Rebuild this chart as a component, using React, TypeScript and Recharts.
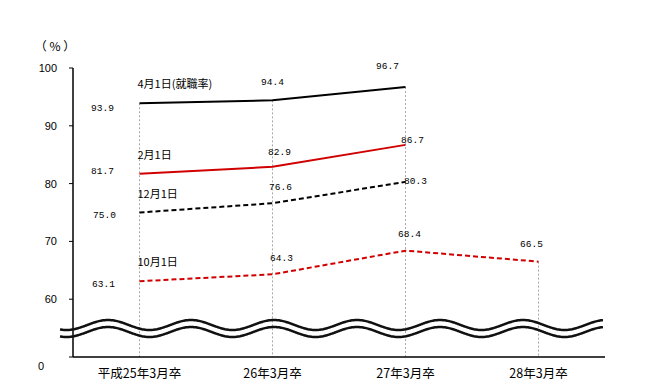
import { LineChart, Line, XAxis, YAxis, ReferenceLine } from "recharts";

const categories = ["平成25年3月卒", "26年3月卒", "27年3月卒", "28年3月卒"];
const april = [93.9, 94.4, 96.7, null];
const february = [81.7, 82.9, 86.7, null];
const december = [75.0, 76.6, 80.3, null];
const october = [63.1, 64.3, 68.4, 66.5];
const yTicks = [50, 60, 70, 80, 90, 100];

const data = categories.map((name, i) => ({
  name,
  april: april[i],
  february: february[i],
  december: december[i],
  october: october[i],
}));

// label offsets (dx, dy) from each point
const aprilPos = [[-37, 5], [0, -18], [-18, -21]];
const februaryPos = [[-37, -2], [7, -14], [7, -4]];
const decemberPos = [[-35, 3], [8, -16], [10, 0]];
const octoberPos = [[-36, 3], [9, -16], [4, -16], [-7, -17]];

const W = 649;
const H = 386;
const numFont = "'Liberation Mono', monospace";
const jpFont = "'Noto Sans CJK JP', sans-serif";

function makeLabel(title: string, pos: number[][]) {
  return (p: any) => {
    const { x, y, value, index } = p;
    if (value == null) return null;
    const [dx, dy] = pos[index] || [0, -15];
    return (
      <g key={`${title}-${index}`}>
        <text
          x={x + dx}
          y={y + dy}
          textAnchor="middle"
          dominantBaseline="central"
          fontSize={9.5}
          fontFamily={numFont}
          fill="#000"
        >
          {value.toFixed(1)}
        </text>
        {index === 0 && (
          <text
            x={x - 2}
            y={y - 20}
            dominantBaseline="central"
            fontSize={11}
            fontFamily={jpFont}
            fill="#000"
          >
            {title}
          </text>
        )}
      </g>
    );
  };
}

function YTick({ x, y, payload }: any) {
  if (payload.value === 50) {
    return (
      <text x={44} y={y + 9} textAnchor="end" dominantBaseline="central" fontSize={11} fontFamily="'Liberation Sans', sans-serif" fill="#000">
        0
      </text>
    );
  }
  return (
    <text x={x} y={y} textAnchor="end" dominantBaseline="central" fontSize={11} fontFamily="'Liberation Sans', sans-serif" fill="#000">
      {payload.value}
    </text>
  );
}

function wavePath(offset: number) {
  let d = "";
  for (let x = 60; x <= 603; x += 1) {
    const y = 325 + offset - 5 * Math.cos((2 * Math.PI * (x - 108)) / 83);
    d += (x === 60 ? "M" : "L") + x + "," + y.toFixed(2) + " ";
  }
  return d;
}

export default function App() {
  const tops = data.map((d) =>
    Math.max(...[d.april, d.february, d.december, d.october].filter((v): v is number => v != null))
  );
  return (
    <div style={{ position: "absolute", left: 0, top: 0, width: W, height: H, background: "#fff" }}>
      <LineChart
        width={W}
        height={H}
        data={data}
        margin={{ top: 68, right: 44, bottom: 9, left: 28 }}
      >
        {categories.map((c, i) => (
          <ReferenceLine
            key={c}
            segment={[{ x: c, y: tops[i] }, { x: c, y: 50 }]}
            stroke="#a6a6a6"
            strokeDasharray="2 2"
            strokeWidth={1}
          />
        ))}
        <XAxis
          dataKey="name"
          height={20}
          padding={{ left: 66.5, right: 66.5 }}
          axisLine={{ stroke: "#000", strokeWidth: 1.5 }}
          tickLine={false}
          tickMargin={6}
          tick={{ fill: "#000", fontSize: 12.5, fontFamily: jpFont }}
          interval={0}
        />
        <YAxis
          width={45}
          domain={[50, 100]}
          ticks={yTicks}
          interval={0}
          axisLine={{ stroke: "#000", strokeWidth: 1.5 }}
          tickLine={{ stroke: "#000" }}
          tickSize={4}
          tickMargin={12}
          tick={<YTick />}
        />
        <Line
          type="linear"
          dataKey="april"
          stroke="#000"
          strokeWidth={2}
          dot={false}
          isAnimationActive={false}
          label={makeLabel("4月1日(就職率)", aprilPos)}
        />
        <Line
          type="linear"
          dataKey="february"
          stroke="#d00000"
          strokeWidth={2}
          dot={false}
          isAnimationActive={false}
          label={makeLabel("2月1日", februaryPos)}
        />
        <Line
          type="linear"
          dataKey="december"
          stroke="#000"
          strokeWidth={2}
          strokeDasharray="5 3"
          dot={false}
          isAnimationActive={false}
          label={makeLabel("12月1日", decemberPos)}
        />
        <Line
          type="linear"
          dataKey="october"
          stroke="#d00000"
          strokeWidth={2}
          strokeDasharray="5 3"
          dot={false}
          isAnimationActive={false}
          label={makeLabel("10月1日", octoberPos)}
        />
        <text x={55} y={45} textAnchor="middle" dominantBaseline="central" fontSize={12} fontFamily={jpFont} fill="#000">
          （ % ）
        </text>
      </LineChart>
      <svg width={W} height={H} style={{ position: "absolute", left: 0, top: 0, pointerEvents: "none" }}>
        <path d={wavePath(0)} fill="none" stroke="#111" strokeWidth={2.5} />
        <path d={wavePath(7)} fill="none" stroke="#111" strokeWidth={2.5} />
      </svg>
    </div>
  );
}
